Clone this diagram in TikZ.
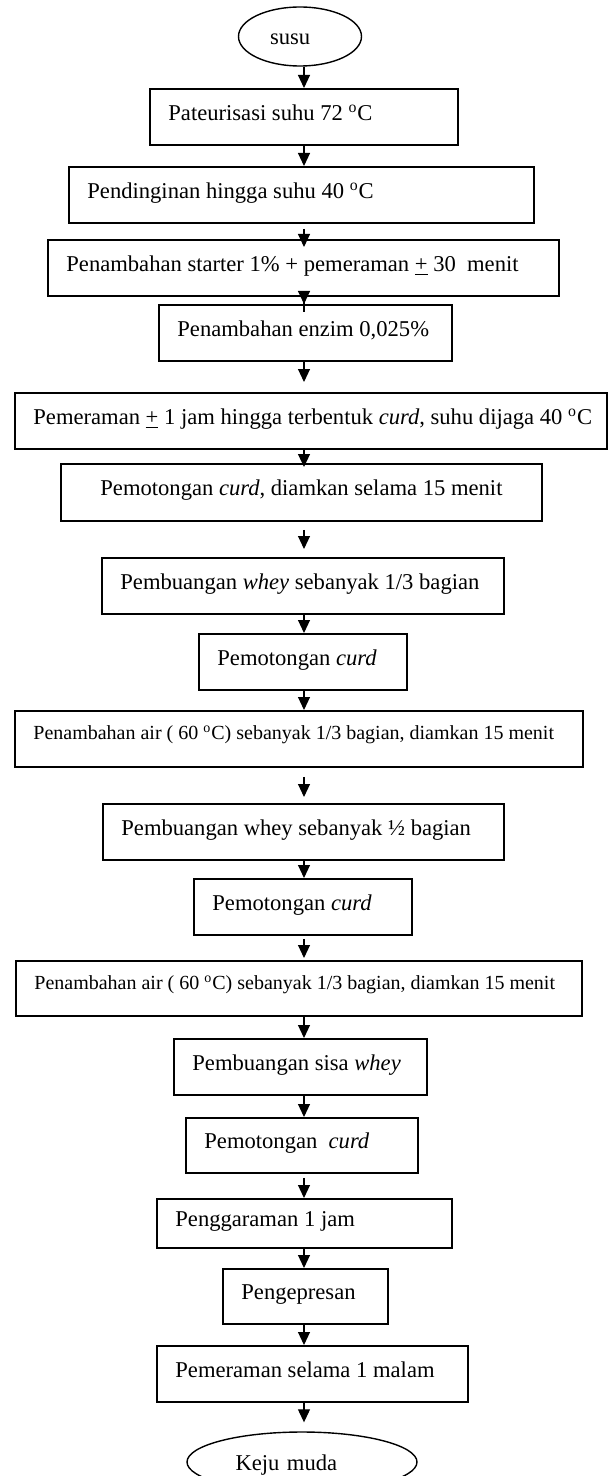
\documentclass[tikz,border=0pt]{standalone}
\usepackage{fontspec}
\setmainfont{Liberation Serif}
\usepackage{tikz}
\usetikzlibrary{arrows.meta,positioning,shapes.geometric}
\newcommand{\stepfont}{\fontsize{11.3pt}{13.5pt}\selectfont}
\newcommand{\smallstepfont}{\fontsize{10pt}{12pt}\selectfont}
\newcommand{\degC}{\textsuperscript{o}C}
\tikzset{
  stepbox/.style={draw,line width=0.9pt,anchor=north west,inner sep=0pt,minimum height=28pt},
  steptext/.style={inner sep=0pt,font=\stepfont,text height=8pt,text depth=4.5pt},
  smalltext/.style={steptext,font=\smallstepfont,text height=7pt,text depth=6pt},
  endpoint/.style={draw,ellipse,line width=0.7pt,inner sep=0pt,font=\stepfont,align=left,text height=8pt,text depth=0pt},
  flow/.style={->,line width=0.55pt}
}
\begin{document}
\begin{tikzpicture}[x=0.5pt,y=0.5pt,>={Triangle[width=6pt,length=6.5pt]}]
  \useasboundingbox (0,0) rectangle (608,-1476);
  \clip (0,0) rectangle (608,-1476);
  \coordinate (axis) at (304,0);
  \node[endpoint,minimum width=61.5pt,minimum height=29.5pt,text width=30pt] (susu) at (300,-36.5) {susu};
  \node[stepbox,minimum width=154pt] (b1) at (149,-88) {};
  \node[steptext,right=9.5pt of b1.west] (t1) {Pateurisasi suhu 72 \degC};
  \node[stepbox,minimum width=232.5pt] (b2) at (68,-166) {};
  \node[steptext,right=9.5pt of b2.west] (t2) {Pendinginan hingga suhu 40 \degC};
  \node[stepbox,minimum width=255.5pt] (b3) at (47,-239) {};
  \node[steptext,right=9.5pt of b3.west] (t3) {Penambahan starter 1\% + pemeraman \underline{+} 30\ \ menit};
  \node[stepbox,minimum width=146.5pt] (b4) at (158,-304) {};
  \node[steptext,right=9.5pt of b4.west] (t4) {Penambahan enzim 0,025\%};
  \node[stepbox,minimum width=296pt] (b5) at (14,-392) {};
  \node[steptext,right=9.5pt of b5.west] (t5) {Pemeraman \underline{+} 1 jam hingga terbentuk \textit{curd}, suhu dijaga 40 \degC};
  \node[stepbox,minimum width=240.5pt,minimum height=28.5pt] (b6) at (60,-463) {};
  \node[steptext,right=20pt of b6.west] (t6) {Pemotongan \textit{curd}, diamkan selama 15 menit};
  \node[stepbox,minimum width=201pt] (b7) at (101,-557) {};
  \node[steptext,right=9.5pt of b7.west] (t7) {Pembuangan \textit{whey} sebanyak 1/3 bagian};
  \node[stepbox,minimum width=104pt] (b8) at (198,-633) {};
  \node[steptext,right=9.5pt of b8.west] (t8) {Pemotongan \textit{curd}};
  \node[stepbox,minimum width=284pt] (b9) at (14,-710) {};
  \node[smalltext,right=9.5pt of b9.west] (t9) {Penambahan air ( 60 \degC) sebanyak 1/3 bagian, diamkan 15 menit};
  \node[stepbox,minimum width=200.5pt] (b10) at (102,-803) {};
  \node[steptext,right=9.5pt of b10.west] (t10) {Pembuangan whey sebanyak ½ bagian};
  \node[stepbox,minimum width=109pt] (b11) at (193,-878) {};
  \node[steptext,right=9.5pt of b11.west] (t11) {Pemotongan \textit{curd}};
  \node[stepbox,minimum width=283pt,minimum height=27.5pt] (b12) at (15,-960) {};
  \node[smalltext,right=9.5pt of b12.west] (t12) {Penambahan air ( 60 \degC) sebanyak 1/3 bagian, diamkan 15 menit};
  \node[stepbox,minimum width=126.5pt] (b13) at (173,-1038) {};
  \node[steptext,right=9.5pt of b13.west] (t13) {Pembuangan sisa \textit{whey}};
  \node[stepbox,minimum width=116pt,minimum height=27.5pt] (b14) at (185,-1117) {};
  \node[steptext,right=9.5pt of b14.west] (t14) {Pemotongan\ \ \textit{curd}};
  \node[stepbox,minimum width=147.5pt,minimum height=24.5pt] (b15) at (156,-1198) {};
  \node[steptext,right=9.5pt of b15.west] (t15) {Penggaraman 1 jam};
  \node[stepbox,minimum width=82.5pt,minimum height=27.5pt] (b16) at (222,-1268) {};
  \node[steptext,right=9.5pt of b16.west] (t16) {Pengepresan};
  \node[stepbox,minimum width=155.5pt] (b17) at (156,-1345) {};
  \node[steptext,right=9.5pt of b17.west] (t17) {Pemeraman selama 1 malam};
  \node[endpoint,minimum width=115pt,minimum height=30pt,text width=66.5pt] (keju) at (302,-1462) {Keju muda};
  \draw[flow] (susu.south -| axis) -- (b1.north -| axis);
  \draw[flow] (b1.south -| axis) -- (b2.north -| axis);
  \draw[flow,shorten <=2.5pt,shorten >=-4pt] (b2.south -| axis) -- (b3.north -| axis);
  \draw[flow,shorten <=-7.5pt] (b3.south -| axis) -- (b4.north -| axis);
  \draw[flow,shorten >=5pt] (b4.south -| axis) -- (b5.north -| axis);
  \draw[flow,shorten >=-2pt] (b5.south -| axis) -- (b6.north -| axis);
  \draw[flow,shorten <=4pt,shorten >=4pt] (b6.south -| axis) -- (b7.north -| axis);
  \draw[flow] (b7.south -| axis) -- (b8.north -| axis);
  \draw[flow] (b8.south -| axis) -- (b9.north -| axis);
  \draw[flow,shorten <=4.5pt,shorten >=3pt] (b9.south -| axis) -- (b10.north -| axis);
  \draw[flow] (b10.south -| axis) -- (b11.north -| axis);
  \draw[flow,shorten <=1.5pt,shorten >=1pt] (b11.south -| axis) -- (b12.north -| axis);
  \draw[flow] (b12.south -| axis) -- (b13.north -| axis);
  \draw[flow] (b13.south -| axis) -- (b14.north -| axis);
  \draw[flow,shorten <=2pt] (b14.south -| axis) -- (b15.north -| axis);
  \draw[flow] (b15.south -| axis) -- (b16.north -| axis);
  \draw[flow] (b16.south -| axis) -- (b17.north -| axis);
  \draw[flow,shorten >=4.5pt] (b17.south -| axis) -- (keju.north -| axis);
\end{tikzpicture}
\end{document}
